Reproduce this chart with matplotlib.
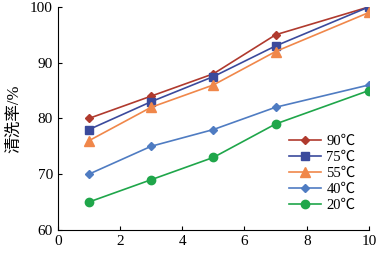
import matplotlib
matplotlib.use("Agg")
import matplotlib.pyplot as plt

plt.rcParams['font.family'] = ['Liberation Serif', 'Noto Sans CJK SC']

x = [1, 3, 5, 7, 10]
labels = ['90℃', '75℃', '55℃', '40℃', '20℃']
t90 = [80, 84, 88, 95, 100]
t75 = [78, 83, 87.5, 93, 100]
t55 = [76, 82, 86, 92, 99]
t40 = [70, 75, 78, 82, 86]
t20 = [65, 69, 73, 79, 85]

series = [t90, t75, t55, t40, t20]
colors = ['#B03A2E', '#3B4A9C', '#F0874A', '#4F7CC2', '#1FA64A']
markers = ['D', 's', '^', 'D', 'o']
sizes = [4.5, 6, 6.5, 4.5, 6]

fig = plt.figure(figsize=(3.78, 2.56), dpi=100)
ax = fig.add_axes([0.153, 0.102, 0.823, 0.871])

for ys, lab, c, m, s in zip(series, labels, colors, markers, sizes):
    ax.plot(x, ys, color=c, marker=m, markersize=s, linewidth=1.2, label=lab)

ax.set_xlim(0, 10)
ax.set_ylim(60, 100)
ax.set_xticks([0, 2, 4, 6, 8, 10])
ax.set_yticks([60, 70, 80, 90, 100])
ax.spines['top'].set_visible(False)
ax.spines['right'].set_visible(False)
ax.tick_params(direction='in', length=3, labelsize=11)
ax.set_ylabel('清洗率/%', fontsize=12, labelpad=6)

ax.legend(loc='lower right', bbox_to_anchor=(1.0, 0.02), frameon=False,
          fontsize=10.5, handlelength=2.2, labelspacing=0.2, handletextpad=0.4)

fig.savefig('out.png', dpi=100)
